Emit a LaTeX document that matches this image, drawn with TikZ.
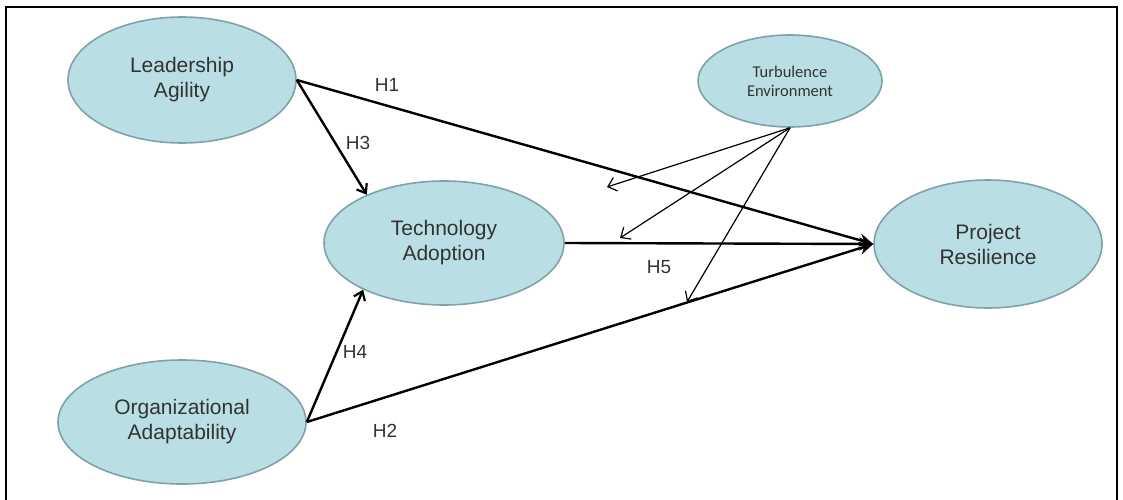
\documentclass[tikz,border=0pt]{standalone}
\usepackage{fontspec}
\setmainfont{Liberation Sans}
\newfontfamily\calib{Carlito}
\usetikzlibrary{shapes.geometric,arrows.meta}
\definecolor{efill}{HTML}{B9DEE3}
\definecolor{edraw}{HTML}{7FA2A8}
\definecolor{etext}{HTML}{333333}
\begin{document}
\begin{tikzpicture}[x=1pt,y=-1pt,
  construct/.style={ellipse, draw=edraw, fill=efill, line width=1.6pt, inner sep=0pt,
     text=etext, align=center, font=\fontsize{21}{25}\selectfont},
  hyp/.style={line width=2.4pt, -{Straight Barb[length=8pt,width=12pt,line width=2.2pt]}},
  hypres/.style={line width=2.4pt, -{Stealth[length=14pt,width=13pt]}},
  moder/.style={line width=1.2pt, -{Straight Barb[length=8pt,width=14pt,line width=1.2pt]}},
  hlabel/.style={font=\fontsize{19}{21}\selectfont, text=etext, inner sep=0pt}]
\useasboundingbox (0,0) rectangle (1123,500);
\draw[line width=1.5pt] (6,500) -- (6,7) -- (1117,7) -- (1117,500);

\node[construct, minimum width=228pt, minimum height=126pt] (LA) at (182,80) {Leadership\\Agility};
\node[construct, minimum width=248pt, minimum height=124pt] (OA) at (182,422) {Organizational\\Adaptability};
\node[construct, minimum width=240pt, minimum height=124pt] (TA) at (444,243) {Technology\\Adoption};
\node[construct, minimum width=228pt, minimum height=128pt] (PR) at (988,244) {Project\\Resilience};
\node[construct, minimum width=184pt, minimum height=92pt, font=\calib\fontsize{16.5}{19}\selectfont] (TE) at (790,81) {Turbulence\\Environment};

\coordinate (m1) at (607,187);
\coordinate (m2) at (620,238);
\coordinate (m3) at (687,302);

\draw[hypres] (LA.east) -- (PR.west);
\draw[hyp] (LA.east) -- (TA.148);
\draw[hyp] (OA.east) -- (TA.210);
\draw[hypres] (OA.east) -- (PR.west);
\draw[hypres] (TA.east) -- (PR.west);

\draw[moder] (TE.south) -- (m1);
\draw[moder] (TE.south) -- (m2);
\draw[moder] (TE.south) -- (m3);

\node[hlabel] (h1) at (387,85) {H1};
\node[hlabel] (h3) at (358,143) {H3};
\node[hlabel] (h4) at (355,352) {H4};
\node[hlabel] (h2) at (385,431) {H2};
\node[hlabel] (h5) at (659,267) {H5};
\end{tikzpicture}
\end{document}
